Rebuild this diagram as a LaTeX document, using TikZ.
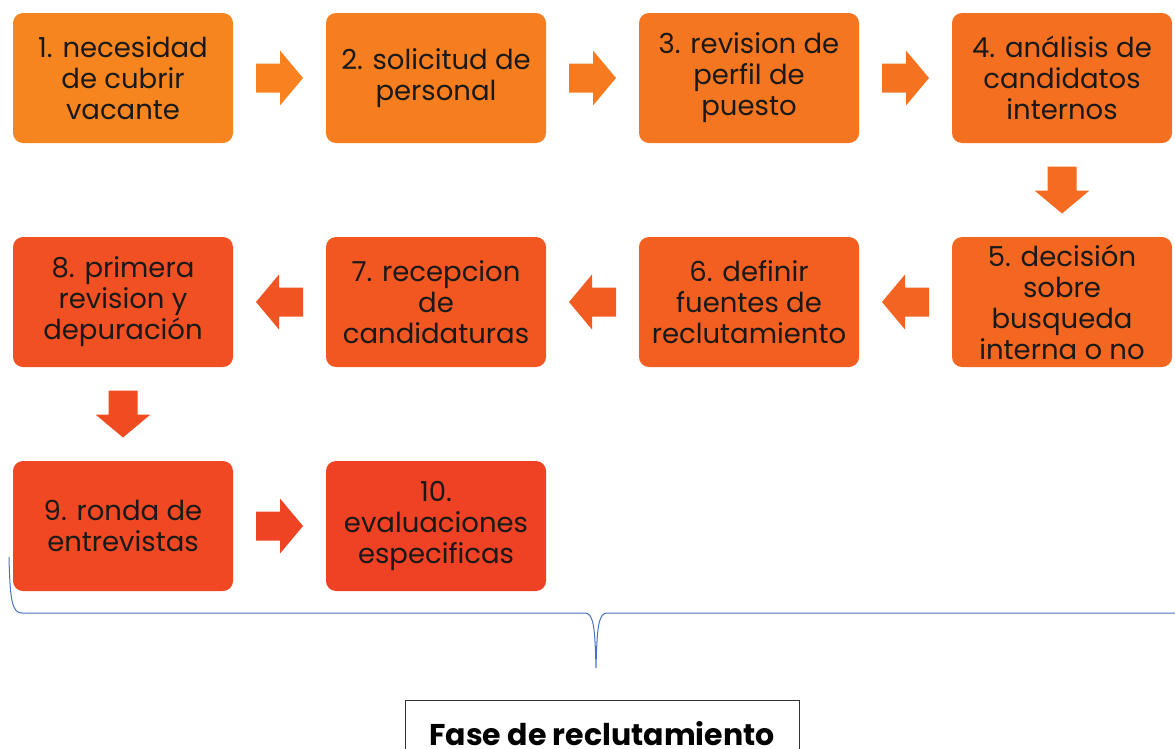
\documentclass[tikz,border=0pt]{standalone}
\usepackage{fontspec}
\setmainfont{Poppins}
\usetikzlibrary{calc}
\definecolor{cA}{RGB}{247,133,31}
\definecolor{cB}{RGB}{239,65,35}
\definecolor{braceblue}{RGB}{68,114,196}
\begin{document}
\begin{tikzpicture}[x=1pt,y=1pt,
 box/.style={rounded corners=10pt, minimum width=220pt, minimum height=130pt, inner sep=0pt, align=center, font=\fontsize{27.5}{31}\selectfont, text=black!90},
 blk/.pic={\fill (-23.5,-14.5) -- (0.5,-14.5) -- (0.5,-27.5) -- (23.5,0) -- (0.5,27.5) -- (0.5,14.5) -- (-23.5,14.5) -- cycle;}
]
\useasboundingbox (0,0) rectangle (1175,-748);
\node[box, fill=cB!0!cA]   (n1)  at (123,-78)  {1. necesidad\\de cubrir\\vacante};
\node[box, fill=cB!11!cA]  (n2)  at (436,-78)  {2. solicitud de\\personal};
\node[box, fill=cB!22!cA]  (n3)  at (749,-78)  {3. revision de\\perfil de\\puesto};
\node[box, fill=cB!33!cA]  (n4)  at (1062,-78) {4. análisis de\\candidatos\\internos};
\node[box, fill=cB!44!cA]  (n5)  at (1062,-302) {5. decisión\\sobre\\busqueda\\interna o no};
\node[box, fill=cB!56!cA]  (n6)  at (749,-302) {6. definir\\fuentes de\\reclutamiento};
\node[box, fill=cB!67!cA]  (n7)  at (436,-302) {7. recepcion\\de\\candidaturas};
\node[box, fill=cB!78!cA]  (n8)  at (123,-302) {8. primera\\revision y\\depuración};
\node[box, fill=cB!89!cA]  (n9)  at (123,-526) {9. ronda de\\entrevistas};
\node[box, fill=cB!100!cA] (n10) at (436,-526) {10.\\evaluaciones\\especificas};

\pic[fill=cB!5!cA]  at ($(n1.east)!0.5!(n2.west)$) {blk};
\pic[fill=cB!16!cA] at ($(n2.east)!0.5!(n3.west)$) {blk};
\pic[fill=cB!27!cA] at ($(n3.east)!0.5!(n4.west)$) {blk};
\pic[fill=cB!38!cA, rotate=-90] at ($(n4.south)!0.5!(n5.north)$) {blk};
\pic[fill=cB!50!cA, rotate=180] at ($(n5.west)!0.5!(n6.east)$) {blk};
\pic[fill=cB!61!cA, rotate=180] at ($(n6.west)!0.5!(n7.east)$) {blk};
\pic[fill=cB!72!cA, rotate=180] at ($(n7.west)!0.5!(n8.east)$) {blk};
\pic[fill=cB!84!cA, rotate=-90] at ($(n8.south)!0.5!(n9.north)$) {blk};
\pic[fill=cB!95!cA] at ($(n9.east)!0.5!(n10.west)$) {blk};

\coordinate (bl) at (9,-557);
\coordinate (bt) at (596,-668);
\coordinate (br) at (1175,-613);
\draw[braceblue, line width=1pt] (bl) .. controls (10,-600) and (12,-613) .. (22,-613) -- (585,-613) .. controls (594,-613) and (595,-630) .. (bt) .. controls (597,-630) and (598,-613) .. (607,-613) -- (br);

\node[draw=black!80, line width=1pt, anchor=north, minimum width=394pt, inner ysep=0pt, text height=45pt, text depth=35pt, font=\bfseries\fontsize{30}{35}\selectfont] (fase) at (602,-700) {Fase de reclutamiento};
\end{tikzpicture}
\end{document}
